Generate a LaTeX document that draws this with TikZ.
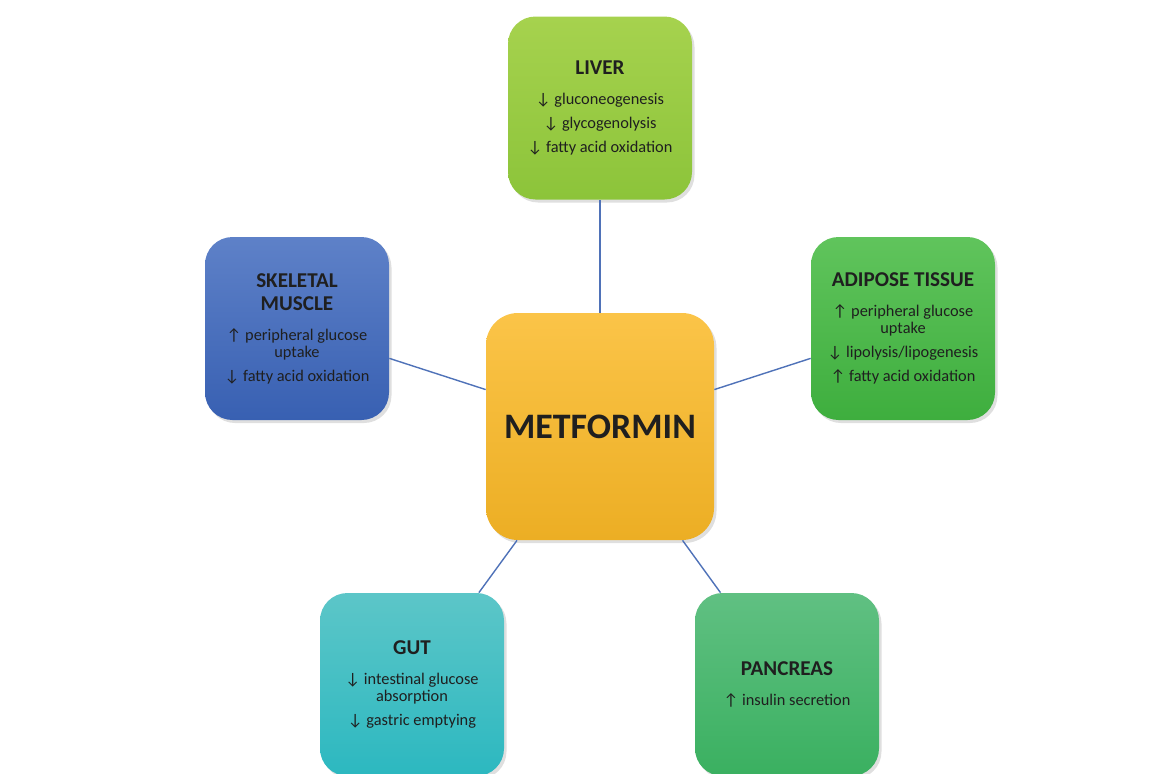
\documentclass[tikz,border=0pt]{standalone}
\usepackage{fontspec}
\setmainfont{Carlito}
\usetikzlibrary{shadows}
\definecolor{linkblue}{RGB}{79,114,184}
\tikzset{
    organnode/.style={
        rectangle,
        rounded corners=0.55cm, % 圆角
        minimum width=3.68cm,
        minimum height=3.66cm,
        inner sep=0,
        align=center,
        text=black!88,
        drop shadow={shadow xshift=0.05cm, shadow yshift=-0.06cm, opacity=0.25},
        font=\fontsize{9.3}{9.7}\selectfont
    },
    centernode/.style={
        organnode,
        rounded corners=0.64cm,
        minimum width=4.56cm,
        minimum height=4.54cm,
        top color={rgb,255:red,251;green,196;blue,72}, % 顶部颜色
        bottom color={rgb,255:red,236;green,174;blue,36}, % 底部颜色
        font=\fontsize{20.4}{24}\selectfont\bfseries
    },
    link/.style={
        draw=linkblue,
        line width=0.8pt
    }
}
\newcommand{\organtitle}[1]{{\fontsize{12}{13}\selectfont\bfseries #1}}

\begin{document}
\begin{tikzpicture}
    \useasboundingbox (0,0) rectangle (23.14,-15.46);
    % 中心
    \node[centernode] (metformin) at (12.0,-8.53) {METFORMIN};
    % 器官
    \node[organnode, top color={rgb,255:red,166;green,210;blue,78}, bottom color={rgb,255:red,140;green,196;blue,58}]
        (liver) at (12.0,-2.16)
        {\organtitle{LIVER}\\[7.4pt]
         ↓ gluconeogenesis\\[4pt]
         ↓ glycogenolysis\\[4pt]
         ↓ fatty acid oxidation};
    \node[organnode, top color={rgb,255:red,94;green,129;blue,200}, bottom color={rgb,255:red,56;green,96;blue,178}]
        (muscle) at (5.94,-6.57)
        {\organtitle{SKELETAL}\\[3.4pt]
         \organtitle{MUSCLE}\\[7.4pt]
         ↑ peripheral glucose\\
         uptake\\[4pt]
         ↓ fatty acid oxidation};
    \node[organnode, top color={rgb,255:red,96;green,196;blue,92}, bottom color={rgb,255:red,62;green,174;blue,62}]
        (adipose) at (18.06,-6.57)
        {\organtitle{ADIPOSE TISSUE}\\[7.4pt]
         ↑ peripheral glucose\\
         uptake\\[4pt]
         ↓ lipolysis/lipogenesis\\[4pt]
         ↑ fatty acid oxidation};
    \node[organnode, top color={rgb,255:red,92;green,198;blue,200}, bottom color={rgb,255:red,44;green,184;blue,192}]
        (gut) at (8.24,-13.69)
        {\organtitle{GUT}\\[7.4pt]
         ↓ intestinal glucose\\
         absorption\\[4pt]
         ↓ gastric emptying};
    \node[organnode, top color={rgb,255:red,96;green,192;blue,130}, bottom color={rgb,255:red,58;green,176;blue,96}]
        (pancreas) at (15.74,-13.69)
        {\organtitle{PANCREAS}\\[7.4pt]
         ↑ insulin secretion};
    % 连线
    \foreach \organ in {liver, muscle, adipose, gut, pancreas}
        \draw[link] (metformin) -- (\organ);
\end{tikzpicture}
\end{document}
